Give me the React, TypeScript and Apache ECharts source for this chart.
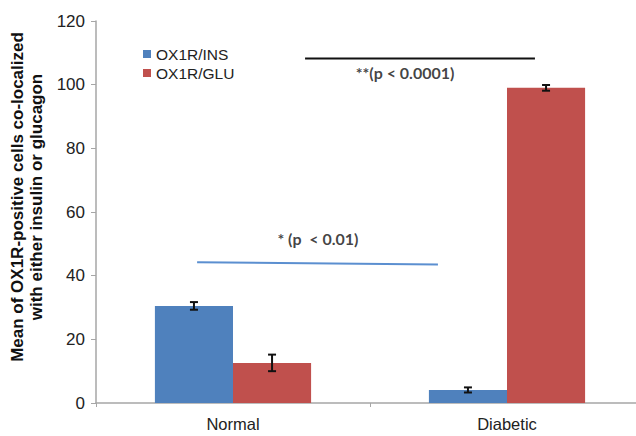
import React, { useEffect, useRef } from "react";
import * as echarts from "echarts";

const categories = ["Normal", "Diabetic"];
const insValues = [30.5, 4.1];
const insErrors = [1.2, 0.8];
const gluValues = [12.6, 99.0];
const gluErrors = [2.6, 0.9];
const seriesNames = ["OX1R/INS", "OX1R/GLU"];
const yTicks = { min: 0, max: 120, interval: 20 };
// significance annotations on a 0..2 category-span scale
const sigLine1 = [[0.369, 44.2], [1.248, 43.5]];
const sigLine2 = [[0.763, 108.2], [1.602, 108.2]];
const sigText1 = { x: 0.81, y: 51.8, text: "* (p  < 0.01)" };
const sigText2 = { x: 1.128, y: 103.7, text: "**(p < 0.0001)" };

const BLUE = "#4f81bd";
const RED = "#c0504d";
const CAT_GAP = 0.43;

function errorSeries(values: number[], errors: number[], side: number) {
  return {
    type: "custom",
    xAxisIndex: 0,
    yAxisIndex: 0,
    z: 5,
    silent: true,
    data: values.map((v, i) => [i, v, errors[i]]),
    renderItem: (params: any, api: any) => {
      const idx = api.value(0);
      const v = api.value(1);
      const e = api.value(2);
      const band = api.size([1, 0])[0];
      const barW = (band * (1 - CAT_GAP)) / 2;
      const center = api.coord([idx, v]);
      const x = center[0] + (side * barW) / 2;
      const top = api.coord([idx, v + e])[1];
      const bot = api.coord([idx, v - e])[1];
      const cap = 4;
      const style = { stroke: "#111", lineWidth: 2 };
      return {
        type: "group",
        children: [
          { type: "line", shape: { x1: x, y1: top, x2: x, y2: bot }, style },
          { type: "line", shape: { x1: x - cap, y1: top, x2: x + cap, y2: top }, style },
          { type: "line", shape: { x1: x - cap, y1: bot, x2: x + cap, y2: bot }, style },
        ],
      };
    },
  };
}

export default function App() {
  const ref = useRef<HTMLDivElement>(null);
  useEffect(() => {
    if (!ref.current) return;
    const chart = echarts.init(ref.current, undefined, { renderer: "svg" });
    const font = "Liberation Sans, Arial, sans-serif";
    chart.setOption({
      animation: false,
      backgroundColor: "#ffffff",
      grid: { left: 96, right: 6, top: 21, bottom: 33, containLabel: false },
      legend: {
        left: 138,
        top: 41,
        orient: "vertical",
        itemWidth: 8,
        itemHeight: 8,
        itemGap: 3,
        icon: "rect",
        textStyle: { fontFamily: font, fontSize: 15.5, color: "#222" },
        data: seriesNames,
      },
      xAxis: [
        {
          type: "category",
          data: categories,
          axisLine: { lineStyle: { color: "#a6a6a6", width: 1.5 } },
          axisTick: { show: true, length: 4, lineStyle: { color: "#a6a6a6" } },
          axisLabel: { fontFamily: font, fontSize: 16.5, color: "#222", margin: 12 },
        },
        { type: "value", min: 0, max: 2, show: false },
      ],
      yAxis: {
        type: "value",
        min: yTicks.min,
        max: yTicks.max,
        interval: yTicks.interval,
        splitLine: { show: false },
        axisLine: { show: true, lineStyle: { color: "#a6a6a6", width: 1.5 } },
        axisTick: { show: true, length: 5, lineStyle: { color: "#a6a6a6" } },
        axisLabel: { fontFamily: font, fontSize: 17, color: "#222", margin: 11 },
      },
      graphic: [
        {
          type: "text",
          x: 27,
          y: 197,
          rotation: Math.PI / 2,
          style: {
            text: "Mean of OX1R-positive cells co-localized\nwith either insulin or glucagon",
            font: "bold 17px Liberation Sans, Arial, sans-serif",
            fill: "#111",
            align: "center",
            verticalAlign: "middle",
            lineHeight: 19,
          },
        },
      ],
      series: [
        {
          name: seriesNames[0],
          type: "bar",
          data: insValues,
          itemStyle: { color: BLUE },
          barGap: "0%",
          barCategoryGap: CAT_GAP * 100 + "%",
        },
        {
          name: seriesNames[1],
          type: "bar",
          data: gluValues,
          itemStyle: { color: RED },
          barGap: "0%",
          barCategoryGap: CAT_GAP * 100 + "%",
        },
        errorSeries(insValues, insErrors, -1),
        errorSeries(gluValues, gluErrors, 1),
        {
          type: "line",
          xAxisIndex: 1,
          data: sigLine1,
          symbol: "none",
          lineStyle: { color: "#5b8fd0", width: 2 },
          silent: true,
          z: 6,
        },
        {
          type: "line",
          xAxisIndex: 1,
          data: sigLine2,
          symbol: "none",
          lineStyle: { color: "#111", width: 2 },
          silent: true,
          z: 6,
        },
        {
          type: "scatter",
          xAxisIndex: 1,
          symbolSize: 0,
          silent: true,
          data: [
            { value: [sigText1.x, sigText1.y], name: sigText1.text },
            { value: [sigText2.x, sigText2.y], name: sigText2.text },
          ],
          label: {
            show: true,
            position: "inside",
            formatter: (p: any) => p.name,
            fontFamily: "Lato, Open Sans, sans-serif",
            fontWeight: "bold",
            fontSize: 16,
            color: "#111",
          },
        },
      ],
    });
    return () => chart.dispose();
  }, []);
  return (
    <div
      style={{
        position: "absolute",
        left: 0,
        top: 0,
        width: 636,
        height: 436,
        overflow: "hidden",
      }}
    >
      <div ref={ref} style={{ width: 650, height: 436 }} />
    </div>
  );
}
